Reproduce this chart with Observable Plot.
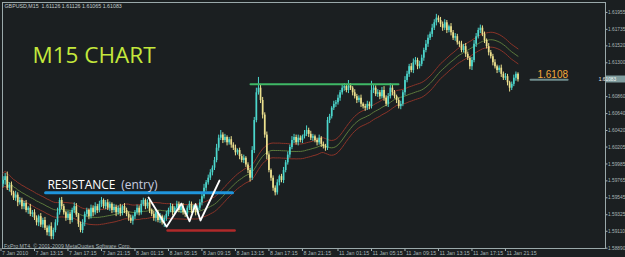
<!DOCTYPE html>
<html><head><meta charset="utf-8">
<script src="https://cdn.jsdelivr.net/npm/d3@7"></script>
<script src="https://cdn.jsdelivr.net/npm/@observablehq/plot@0.6"></script>
<style>html,body{margin:0;padding:0;background:#1b1f21;overflow:hidden}svg{display:block}</style>
</head><body><div id="chart"></div>
<script>
// GBPUSD M15 closes, bar 1..247
const closes = [
1.5977,1.5982,1.5967,1.5971,1.5961,1.5954,1.5958,1.5948,1.5951,1.5943,
1.5947,1.5938,1.5941,1.5933,1.5935,1.5928,1.5922,1.5930,1.5919,1.5925,
1.5915,1.5909,1.5917,1.5904,1.5912,1.5922,1.5935,1.5951,1.5943,1.5935,
1.5928,1.5933,1.5925,1.5938,1.5943,1.5932,1.5920,1.5912,1.5922,1.5933,
1.5938,1.5930,1.5941,1.5935,1.5943,1.5938,1.5946,1.5951,1.5943,1.5948,
1.5941,1.5946,1.5938,1.5942,1.5935,1.5941,1.5934,1.5943,1.5938,1.5933,
1.5928,1.5924,1.5930,1.5935,1.5941,1.5935,1.5946,1.5951,1.5943,1.5948,
1.5938,1.5933,1.5928,1.5935,1.5925,1.5930,1.5922,1.5928,1.5933,1.5938,
1.5943,1.5935,1.5941,1.5946,1.5938,1.5943,1.5935,1.5933,1.5941,1.5946,
1.5938,1.5943,1.5935,1.5941,1.5948,1.5956,1.5967,1.5974,1.5980,1.5987,
1.5993,1.6003,1.6019,1.6032,1.6036,1.6029,1.6033,1.6026,1.6030,1.6023,
1.6019,1.6013,1.6016,1.6008,1.6003,1.6006,1.5997,1.5990,1.5980,1.6016,
1.6055,1.6091,1.6097,1.6081,1.6062,1.6036,1.6010,1.5990,1.5980,1.5967,
1.5961,1.5974,1.5982,1.5977,1.5990,1.6000,1.6010,1.6020,1.6029,1.6033,
1.6026,1.6032,1.6029,1.6034,1.6037,1.6042,1.6037,1.6032,1.6034,1.6029,
1.6026,1.6032,1.6024,1.6021,1.6019,1.6055,1.6060,1.6071,1.6076,1.6078,
1.6084,1.6091,1.6097,1.6099,1.6094,1.6100,1.6097,1.6091,1.6086,1.6081,
1.6084,1.6076,1.6073,1.6071,1.6076,1.6073,1.6094,1.6097,1.6089,1.6091,
1.6086,1.6094,1.6084,1.6076,1.6086,1.6097,1.6091,1.6086,1.6081,1.6073,
1.6076,1.6091,1.6107,1.6115,1.6125,1.6120,1.6130,1.6133,1.6125,1.6128,
1.6136,1.6146,1.6154,1.6162,1.6167,1.6175,1.6182,1.6188,1.6185,1.6180,
1.6175,1.6182,1.6172,1.6177,1.6169,1.6162,1.6164,1.6156,1.6154,1.6146,
1.6151,1.6141,1.6136,1.6125,1.6133,1.6154,1.6164,1.6172,1.6175,1.6167,
1.6159,1.6151,1.6143,1.6138,1.6130,1.6125,1.6120,1.6123,1.6115,1.6110,
1.6112,1.6104,1.6097,1.6102,1.6110,1.6115,1.6108];
const firstOpen = 1.5972;
// wick lengths in pips above / below the body
const upperWicks = [
5,4,6,3,4,2,5,3,4,3, 3,4,2,5,3,4,3,2,4,3, 4,3,2,5,3,4,6,3,4,3, 2,4,3,3,5,4,2,3,4,3,
3,2,4,3,5,3,4,4,2,3, 4,3,2,4,3,3,5,2,4,3, 3,4,2,3,4,3,5,3,2,4, 3,2,4,3,3,4,2,3,4,3,
4,3,2,4,3,3,4,2,3,4, 3,2,4,3,4,3,5,3,4,4, 3,4,5,4,6,3,4,2,3,4, 3,4,2,3,3,4,2,3,3,5,
4,6,14,5,4,3,4,3,2,3, 3,4,2,3,4,3,4,3,5,4, 3,4,3,2,5,6,3,4,3,2, 3,4,2,3,3,4,3,2,4,3,
4,3,5,4,3,7,3,2,4,3, 3,4,2,3,4,3,12,5,3,4, 3,4,5,3,4,6,4,3,2,3, 4,3,5,4,3,4,5,4,3,4,
4,3,5,4,3,5,4,5,3,4, 3,4,3,2,4,3,4,3,2,4, 3,4,3,2,4,5,4,3,4,3, 3,2,4,3,3,4,2,3,4,3,
4,3,2,3,4,3,2];
const lowerWicks = [
4,6,3,5,4,3,4,5,3,4, 4,3,5,3,4,3,4,5,3,4, 3,4,5,4,4,3,4,3,4,3, 4,3,5,3,4,3,4,3,4,5,
3,4,3,5,3,4,3,4,3,4, 3,4,4,3,5,3,4,3,4,3, 4,3,5,4,3,4,3,3,4,3, 4,3,4,5,3,4,3,6,4,3,
3,4,3,4,3,4,3,4,5,3, 4,3,4,3,3,4,3,4,3,3, 4,3,3,4,3,4,3,4,3,4, 3,4,3,4,3,4,3,4,5,3,
4,3,3,4,5,4,6,3,4,4, 4,3,4,3,4,3,3,4,3,4, 3,4,3,4,3,3,4,3,4,3, 4,3,4,3,4,3,4,3,3,4,
3,4,3,4,3,4,3,4,3,4, 3,4,3,4,3,4,3,4,3,4, 4,3,4,3,4,3,4,3,4,3, 4,3,4,3,4,3,4,3,4,3,
3,4,3,4,3,4,3,4,3,4, 4,3,4,3,4,3,4,3,4,3, 3,4,3,4,5,3,4,3,4,3, 4,3,4,3,4,3,4,3,4,3,
3,4,5,3,3,4,3];

const priceTicks = [1.61955,1.61735,1.61520,1.61300,1.60860,1.60640,1.60420,1.60205,1.59985,1.59765,1.59545,1.59325,1.59110,1.58890];
const currentPrice = 1.61083;
const timeTickBars = [0,16,32,48,64,80,96,112,128,144,161,177,193,209,225,241];
const timeTickLabels = ["7 Jan 2010","7 Jan 13:15","7 Jan 17:15","7 Jan 21:15","8 Jan 01:15","8 Jan 05:15","8 Jan 09:15","8 Jan 13:15","8 Jan 17:15","8 Jan 21:15","11 Jan 01:15","11 Jan 05:15","11 Jan 09:15","11 Jan 13:15","11 Jan 17:15","11 Jan 21:15"];

// drawn objects: [bar, price]
const resistanceLine = [[21.3,1.5961],[110.6,1.5961]];
const supportLine = [[79.6,1.5912],[111.6,1.5912]];
const highLine = [[119.2,1.6102],[189.9,1.6102]];
const zigzag = [[70.5,1.5955],[79.1,1.5917],[86.2,1.5947],[90.1,1.5924],[92.9,1.5946],[95.3,1.5925],[104.4,1.5977]];
const levelLine = [[253,1.6108],[270.7,1.6108]];
const labelTexts = ["M15 CHART","RESISTANCE","(entry)","1.6108"];
const labelPos = [[15.05,1.6139],[22.2,1.5971],[57.4,1.5971],[256.3,1.6110]];
const infoText = "GBPUSD,M15  1.61126 1.61126 1.61065 1.61083";
const copyText = "FxPro MT4, \u00a9 2001-2009 MetaQuotes Software Corp.";

const maPeriod = 34, envPct = 0.0006;

const bars = closes.map((c, k) => {
  const open = k ? closes[k-1] : firstOpen;
  return {i: k+1, open, close: c,
    high: Math.max(open, c) + upperWicks[k]*1e-4,
    low: Math.min(open, c) - lowerWicks[k]*1e-4,
    up: c > open};
});
const ma = closes.map((c, k) => {
  const m = d3.mean(closes.slice(Math.max(0, k-maPeriod+1), k+1));
  return {i: k+1, m, hi: m*(1+envPct), lo: m*(1-envPct)};
});
const UP = "#4cd6cc", DN = "#ece08e";
const pts = a => a.map(([x,y]) => ({x, y}));
const AXF = "Liberation Sans Narrow, Liberation Sans, Arial, sans-serif";

const chart = Plot.plot({
  width: 625, height: 257,
  marginTop: 2, marginBottom: 9, marginLeft: 2, marginRight: 20,
  style: {background: "#1b1f21", color: "#a9b6b8", fontFamily: AXF, fontSize: "4.8px"},
  x: {domain: [0.717, 288.8], ticks: timeTickBars, tickFormat: () => "", tickSize: 3, label: null},
  y: {domain: [1.58886, 1.62084], ticks: priceTicks, tickFormat: d3.format(".5f"), tickSize: 1.5, tickPadding: 1, axis: "right", label: null},
  marks: [
    Plot.frame({stroke: "#9aa8aa"}),
    Plot.line(ma, {x: "i", y: "hi", stroke: "#8a3328", strokeWidth: 1}),
    Plot.line(ma, {x: "i", y: "m", stroke: "#5c7a3c", strokeWidth: 1}),
    Plot.line(ma, {x: "i", y: "lo", stroke: "#8a3328", strokeWidth: 1}),
    Plot.ruleX(bars, {x: "i", y1: "low", y2: "high", stroke: d => d.up ? UP : DN, strokeWidth: 1}),
    Plot.ruleX(bars, {x: "i", y1: "open", y2: "close", stroke: d => d.up ? UP : DN, strokeWidth: 1.7}),
    Plot.line(pts(resistanceLine), {x: "x", y: "y", stroke: "#1f95dc", strokeWidth: 3}),
    Plot.line(pts(supportLine), {x: "x", y: "y", stroke: "#b02a2a", strokeWidth: 2.5}),
    Plot.line(pts(highLine), {x: "x", y: "y", stroke: "#3fb866", strokeWidth: 2}),
    Plot.line(pts(zigzag), {x: "x", y: "y", stroke: "#ffffff", strokeWidth: 1.8}),
    Plot.line(pts(levelLine), {x: "x", y: "y", stroke: "#6f8c8c", strokeWidth: 2}),
    Plot.text([0], {x: () => labelPos[0][0], y: () => labelPos[0][1], text: () => labelTexts[0], textAnchor: "start", fontSize: 22.5, fontFamily: "Open Sans", fill: "#c4e83c"}),
    Plot.text([0], {x: () => labelPos[1][0], y: () => labelPos[1][1], text: () => labelTexts[1], textAnchor: "start", fontSize: 12, fontFamily: "Open Sans", fill: "#ffffff"}),
    Plot.text([0], {x: () => labelPos[2][0], y: () => labelPos[2][1], text: () => labelTexts[2], textAnchor: "start", fontSize: 12, fontFamily: "Open Sans", fill: "#c8cde0"}),
    Plot.text([0], {x: () => labelPos[3][0], y: () => labelPos[3][1], text: () => labelTexts[3], textAnchor: "start", lineAnchor: "bottom", fontSize: 10, fontFamily: "Liberation Sans", fill: "#f2a83c"}),
    Plot.text([infoText], {frameAnchor: "top-left", text: d => d, textAnchor: "start", lineAnchor: "top", dx: 2, dy: 1.5, fontSize: 5.3, fontFamily: "Liberation Sans, Arial, sans-serif", fill: "#c2cccc"}),
    Plot.text([copyText], {frameAnchor: "bottom-left", text: d => d, textAnchor: "start", lineAnchor: "bottom", dx: 1.5, dy: -1, fontSize: 5.3, fontFamily: "Liberation Sans, Arial, sans-serif", fill: "#a9b6b8"}),
    Plot.text(timeTickBars, {x: d => d, text: (d, k) => timeTickLabels[k], frameAnchor: "bottom", textAnchor: "start", lineAnchor: "top", dx: 1, dy: 2.5, fontSize: 5.3, fontFamily: "Liberation Sans, Arial, sans-serif", fill: "#a9b6b8"})
  ]
});
document.getElementById("chart").appendChild(chart);

// current price tag on the price axis
const sy = chart.scale("y");
const yf = d3.scaleLinear(sy.domain, sy.range);
const g = d3.select(chart).append("g");
g.append("rect").attr("x", 605.5).attr("y", yf(currentPrice) - 3.5).attr("width", 19.5).attr("height", 7).attr("fill", "#7f9c9e");
g.append("text").attr("x", 607.5).attr("y", yf(currentPrice) + 1.7).attr("fill", "#f2f7f7").attr("font-size", 4.8).attr("font-family", AXF).text(currentPrice.toFixed(5));
</script>
</body></html>
